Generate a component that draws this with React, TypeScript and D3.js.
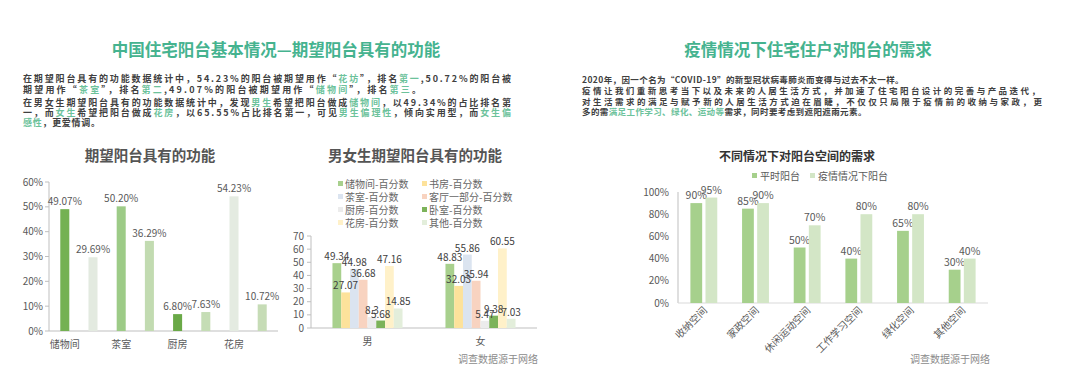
import React from "react";
import * as d3 from "d3";

// 期望阳台具有的功能
const funcCats = ["储物间", "书房", "茶室", "客厅一部分", "厨房", "卧室", "花房", "其他"];
const funcValues = [49.07, 29.69, 50.2, 36.29, 6.8, 7.63, 54.23, 10.72];
const funcTicks = [0, 10, 20, 30, 40, 50, 60];

// 男女生期望阳台具有的功能
const genders = ["男", "女"];
const genderSeries = [
  "储物间-百分数",
  "书房-百分数",
  "茶室-百分数",
  "客厅一部分-百分数",
  "厨房-百分数",
  "卧室-百分数",
  "花房-百分数",
  "其他-百分数",
];
const maleValues = [49.34, 27.07, 44.98, 36.68, 8.3, 5.68, 47.16, 14.85];
const femaleValues = [48.83, 32.03, 55.86, 35.94, 5.47, 9.38, 60.55, 7.03];
const genderTicks = [0, 10, 20, 30, 40, 50, 60, 70];

// 不同情况下对阳台空间的需求
const spaces = ["收纳空间", "家政空间", "休闲运动空间", "工作学习空间", "绿化空间", "其他空间"];
const needSeries = ["平时阳台", "疫情情况下阳台"];
const normalValues = [90, 85, 50, 40, 65, 30];
const pandemicValues = [95, 90, 70, 80, 80, 40];
const needTicks = [0, 20, 40, 60, 80, 100];

const FONT = "'Noto Sans CJK SC', 'Noto Sans', sans-serif";
const HEAD = "#45b38f";
const HL = "#6cc29b";
const TXT = "#404040";
const AX = "#595959";

const funcColors = ["#74b152", "#e3eae0", "#9dcb87", "#c2dbb1", "#6aa947", "#c5ddb5", "#e4ebe1", "#c6dcb6"];
const genderColors = ["#a8d08d", "#fde29b", "#dbe4f0", "#f8d3c0", "#ececec", "#7cb35a", "#fff1c9", "#e3eedb"];
const needColors = ["#a6d08c", "#d3e6c6"];

type Seg = [string, boolean];
type Line = { segs: Seg[]; fit?: number };

const leftPara: Line[] = [
  {
    segs: [
      ["在期望阳台具有的功能数据统计中，54.23%的阳台被期望用作“", false],
      ["花坊", true],
      ["”，排名", false],
      ["第一", true],
      [",50.72%的阳台被", false],
    ],
    fit: 488,
  },
  {
    segs: [
      ["期望用作“", false],
      ["茶室", true],
      ["”，排名", false],
      ["第二", true],
      [",49.07%的阳台被期望用作“", false],
      ["储物间", true],
      ["”，排名", false],
      ["第三", true],
      ["。", false],
    ],
    fit: 398,
  },
  {
    segs: [
      ["在男女生期望阳台具有的功能数据统计中，发现", false],
      ["男生", true],
      ["希望把阳台做成", false],
      ["储物间", true],
      ["，以49.34%的占比排名第", false],
    ],
    fit: 488,
  },
  {
    segs: [
      ["一，而", false],
      ["女生", true],
      ["希望把阳台做成", false],
      ["花房", true],
      ["，以65.55%占比排名第一，可见", false],
      ["男生偏理性", true],
      ["，倾向实用型，而", false],
      ["女生偏", true],
    ],
    fit: 488,
  },
  { segs: [["感性", true], ["，更爱情调。", false]], fit: 77 },
];

const rightPara: Line[] = [
  { segs: [["2020年，因一个名为“COVID-19”的新型冠状病毒肺炎而变得与过去不太一样。", false]] },
  { segs: [["疫情让我们重新思考当下以及未来的人居生活方式，并加速了住宅阳台设计的完善与产品迭代，", false]], fit: 458 },
  { segs: [["对生活需求的满足与赋予新的人居生活方式迫在眉睫，不仅仅只局限于疫情前的收纳与家政，更", false]], fit: 460 },
  { segs: [["多的需", false], ["满足工作学习、绿化、运动等", true], ["需求，同时要考虑到遮阳遮雨元素。", false]] },
];

const Para = ({ lines, x, ys, size }: { lines: Line[]; x: number; ys: number[]; size: number }) => (
  <g fontFamily={FONT} fontSize={size} fontWeight={700}>
    {lines.map((ln, i) => (
      <text
        key={i}
        x={x}
        y={ys[i]}
        textLength={ln.fit}
        lengthAdjust={ln.fit ? "spacing" : undefined}
        letterSpacing={ln.fit ? undefined : 0.4}
      >
        {ln.segs.map(([t, h], j) => (
          <tspan key={j} fill={h ? HL : TXT}>
            {t}
          </tspan>
        ))}
      </text>
    ))}
  </g>
);

const FuncChart = () => {
  const x = d3.scaleBand<string>().domain(funcCats).range([49, 278]).paddingInner(0.68).paddingOuter(0.4);
  const y = d3.scaleLinear().domain([0, 60]).range([331, 182]);
  return (
    <g fontFamily={FONT}>
      <text x={150} y={161} textAnchor="middle" fontSize={14.5} fontWeight={700} fill="#555">
        期望阳台具有的功能
      </text>
      <line x1={49} x2={49} y1={y(60)} y2={y(0)} stroke="#bfbfbf" />
      <line x1={49} x2={278} y1={y(0)} y2={y(0)} stroke="#bfbfbf" />
      {funcTicks.map((t) => (
        <g key={t}>
          <line x1={45} x2={49} y1={y(t)} y2={y(t)} stroke="#bfbfbf" />
          <text x={43} y={y(t) + 3.5} textAnchor="end" fontSize={10} fill={AX}>
            {t}%
          </text>
        </g>
      ))}
      {funcCats.map((c, i) => (
        <g key={c}>
          <rect
            x={x(c)}
            y={y(funcValues[i])}
            width={x.bandwidth()}
            height={y(0) - y(funcValues[i])}
            fill={funcColors[i]}
          />
          <text
            x={x(c)! + x.bandwidth() / 2}
            y={y(funcValues[i]) - 4}
            textAnchor="middle"
            fontSize={10}
            fill={AX}
          >
            {funcValues[i].toFixed(2)}%
          </text>
          {i % 2 === 0 && (
            <text x={x(c)! + x.bandwidth() / 2} y={348} textAnchor="middle" fontSize={10} fill={AX}>
              {c}
            </text>
          )}
        </g>
      ))}
    </g>
  );
};

const GenderChart = () => {
  const x0 = d3.scaleBand<string>().domain(genders).range([311, 537]).paddingInner(0.38).paddingOuter(0.19);
  const x1 = d3.scaleBand<string>().domain(genderSeries).range([0, x0.bandwidth()]);
  const y = d3.scaleLinear().domain([0, 70]).range([328, 236]);
  const rows = [maleValues, femaleValues];
  return (
    <g fontFamily={FONT}>
      <text x={415} y={161} textAnchor="middle" fontSize={14.5} fontWeight={700} fill="#555">
        男女生期望阳台具有的功能
      </text>
      {genderSeries.map((s, i) => {
        const lx = i % 2 === 0 ? 338 : 422;
        const ly = 184 + Math.floor(i / 2) * 13;
        return (
          <g key={s}>
            <rect x={lx} y={ly - 3} width={5} height={5} fill={genderColors[i]} />
            <text x={lx + 7} y={ly + 3.5} fontSize={10} fill="#666">
              {s}
            </text>
          </g>
        );
      })}
      <line x1={311} x2={311} y1={y(70)} y2={y(0)} stroke="#bfbfbf" />
      <line x1={311} x2={537} y1={y(0)} y2={y(0)} stroke="#bfbfbf" />
      {genderTicks.map((t) => (
        <g key={t}>
          <line x1={307} x2={311} y1={y(t)} y2={y(t)} stroke="#bfbfbf" />
          <text x={304} y={y(t) + 3.5} textAnchor="end" fontSize={10} fill={AX}>
            {t}
          </text>
        </g>
      ))}
      {genders.map((g, gi) => (
        <g key={g} transform={`translate(${x0(g)},0)`}>
          {genderSeries.map((s, i) => (
            <rect
              key={s}
              x={x1(s)}
              y={y(rows[gi][i])}
              width={x1.bandwidth()}
              height={y(0) - y(rows[gi][i])}
              fill={genderColors[i]}
            />
          ))}
          {genderSeries.map((s, i) => (
            <text
              key={s}
              x={x1(s)! + x1.bandwidth() / 2}
              y={y(rows[gi][i]) - 3}
              textAnchor="middle"
              fontSize={10}
              fill={TXT}
            >
              {rows[gi][i]}
            </text>
          ))}
          <text x={x0.bandwidth() / 2} y={345} textAnchor="middle" fontSize={10} fill={AX}>
            {g}
          </text>
        </g>
      ))}
      <text x={538} y={363} textAnchor="end" fontSize={10} fill="#8c8c8c">
        调查数据源于网络
      </text>
    </g>
  );
};

const NeedChart = () => {
  const x0 = d3.scaleBand<string>().domain(spaces).range([678, 988]).paddingInner(0.48).paddingOuter(0.24);
  const x1 = d3.scaleBand<string>().domain(needSeries).range([0, x0.bandwidth()]).paddingInner(0.22);
  const y = d3.scaleLinear().domain([0, 100]).range([303, 192]);
  const rows = [normalValues, pandemicValues];
  return (
    <g fontFamily={FONT}>
      <text x={797} y={161} textAnchor="middle" fontSize={12} fontWeight={700} fill="#333">
        不同情况下对阳台空间的需求
      </text>
      {needSeries.map((s, i) => {
        const lx = i === 0 ? 752 : 810;
        return (
          <g key={s}>
            <rect x={lx} y={173} width={5} height={5} fill={needColors[i]} />
            <text x={lx + 8} y={179.5} fontSize={10} fill={AX}>
              {s}
            </text>
          </g>
        );
      })}
      <line x1={678} x2={678} y1={y(100)} y2={y(0)} stroke="#bfbfbf" />
      <line x1={678} x2={988} y1={y(0)} y2={y(0)} stroke="#d9d9d9" />
      {needTicks.map((t) => (
        <text key={t} x={669} y={y(t) + 3.5} textAnchor="end" fontSize={10} fill={AX}>
          {t}%
        </text>
      ))}
      {spaces.map((sp, gi) => {
        const cx = x0(sp)! + x0.bandwidth() / 2;
        return (
          <g key={sp}>
            {needSeries.map((s, i) => {
              const v = rows[i][gi];
              const bx = x0(sp)! + x1(s)!;
              return (
                <g key={s}>
                  <rect x={bx} y={y(v)} width={x1.bandwidth()} height={y(0) - y(v)} fill={needColors[i]} />
                  <text x={bx + x1.bandwidth() / 2} y={y(v) - 4} textAnchor="middle" fontSize={10.5} fill={AX}>
                    {v}%
                  </text>
                </g>
              );
            })}
            <text
              transform={`translate(${cx + 4},${311}) rotate(-45)`}
              textAnchor="end"
              fontSize={10}
              fill={AX}
            >
              {sp}
            </text>
          </g>
        );
      })}
      <text x={990} y={363} textAnchor="end" fontSize={10} fill="#8c8c8c">
        调查数据源于网络
      </text>
    </g>
  );
};

export default function App() {
  return (
    <svg
      width={1080}
      height={390}
      style={{ position: "absolute", left: 0, top: 0, background: "#fff" }}
    >
      <rect width={1080} height={390} fill="#fff" />
      <text x={276} y={56} textAnchor="middle" fontFamily={FONT} fontSize={16.5} fontWeight={700} fill={HEAD}>
        中国住宅阳台基本情况—期望阳台具有的功能
      </text>
      <text x={808} y={56} textAnchor="middle" fontFamily={FONT} fontSize={16.5} fontWeight={700} fill={HEAD}>
        疫情情况下住宅住户对阳台的需求
      </text>
      <Para lines={leftPara} x={23} ys={[82, 93, 106, 116, 126]} size={9} />
      <Para lines={rightPara} x={582} ys={[83, 94, 105, 115]} size={8.5} />
      <FuncChart />
      <GenderChart />
      <NeedChart />
    </svg>
  );
}
